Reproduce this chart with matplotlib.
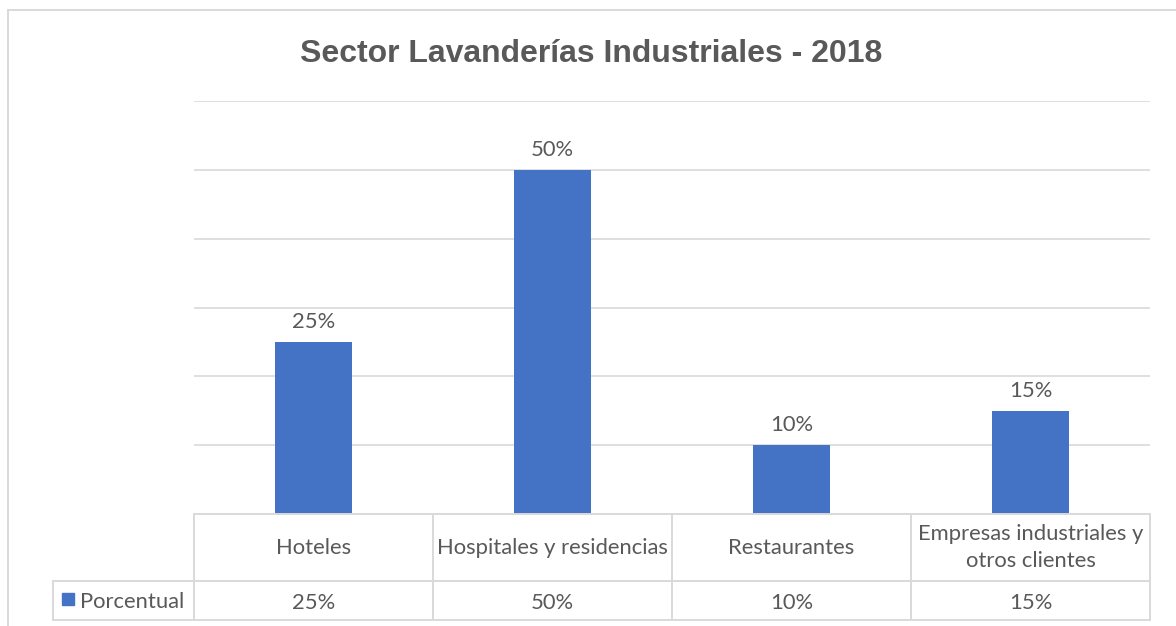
import matplotlib.pyplot as plt
from matplotlib.patches import Rectangle
from matplotlib.lines import Line2D
from matplotlib.transforms import blended_transform_factory

categories = ["Hoteles", "Hospitales y residencias", "Restaurantes",
              "Empresas industriales y\notros clientes"]
values = [0.25, 0.50, 0.10, 0.15]
value_labels = ["25%", "50%", "10%", "15%"]
series_name = "Porcentual"
title = "Sector Lavanderías Industriales - 2018"

W, H = 1176, 626
BAR = "#4472C4"
GRID = "#D9D9D9"
TXT = "#595959"
FONT = ["Lato", "DejaVu Sans"]
FS = 15.8

fig = plt.figure(figsize=(W / 100, H / 100), dpi=100)

def fy(py):
    return 1 - py / H

# plot area
x0, x1 = 194, 1150
y_top, y_base = 101, 514
ax = fig.add_axes([x0 / W, fy(y_base), (x1 - x0) / W, (y_base - y_top) / H])
ax.set_xlim(-0.5, len(categories) - 0.5)
ax.set_ylim(0, 0.6)
ax.bar(range(len(values)), values, width=0.32, color=BAR, zorder=3)
ax.set_yticks([0.1, 0.2, 0.3, 0.4, 0.5, 0.6])
ax.yaxis.grid(True, color=GRID, linewidth=1.2)
ax.set_axisbelow(True)
ax.tick_params(left=False, bottom=False, labelleft=False, labelbottom=False)
for s in ax.spines.values():
    s.set_visible(False)

for i, (v, lab) in enumerate(zip(values, value_labels)):
    ax.annotate(lab, (i, v), xytext=(0, 7), textcoords="offset points",
                ha="center", va="bottom", fontsize=FS, color=TXT, family=FONT)

fig.suptitle(title, x=0.503, y=fy(54), va="center", fontsize=23,
             fontweight="bold", color=TXT, family=["Liberation Sans", "DejaVu Sans"])

# data table below the plot area
tr = blended_transform_factory(ax.transData, fig.transFigure)
row1_top, row2_top, row2_bot = 514, 581, 620
n = len(categories)
lw = 1.4
for yy in (row1_top, row2_top, row2_bot):
    fig.add_artist(Line2D([-0.5, n - 0.5], [fy(yy), fy(yy)], transform=tr,
                          color=GRID, lw=lw))
for k in range(n + 1):
    fig.add_artist(Line2D([k - 0.5, k - 0.5], [fy(row1_top), fy(row2_bot)],
                          transform=tr, color=GRID, lw=lw))
# legend cell
legend_x0 = 53
for yy in (row2_top, row2_bot):
    fig.add_artist(Line2D([legend_x0 / W, x0 / W], [fy(yy), fy(yy)],
                          color=GRID, lw=lw))
fig.add_artist(Line2D([legend_x0 / W, legend_x0 / W], [fy(row2_top), fy(row2_bot)],
                      color=GRID, lw=lw))
fig.add_artist(Rectangle((62 / W, fy(605)), 12 / W, 12 / H, color=BAR))
fig.text(80 / W, fy(602), series_name, ha="left", va="center", fontsize=FS,
         color=TXT, family=FONT)

for i, (c, lab) in enumerate(zip(categories, value_labels)):
    fig.text(i, fy((row1_top + row2_top) / 2), c, transform=tr, ha="center",
             va="center", fontsize=FS, color=TXT, family=FONT,
             linespacing=1.45)
    fig.text(i, fy(603), lab, transform=tr, ha="center", va="center",
             fontsize=FS, color=TXT, family=FONT)

# chart frame
fig.add_artist(Line2D([8 / W, 1], [fy(10), fy(10)], color=GRID, lw=1.4))
fig.add_artist(Line2D([8 / W, 8 / W], [fy(10), 0], color=GRID, lw=1.4))

fig.savefig("out.png", dpi=100, facecolor="white")
